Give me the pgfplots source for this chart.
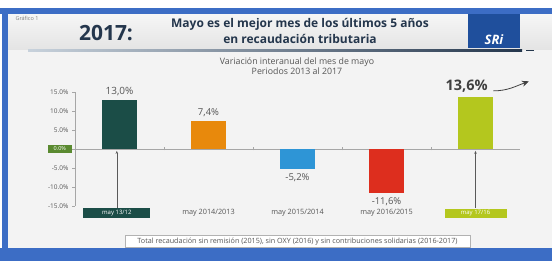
\documentclass[border=0pt]{standalone}
\usepackage{pgfplots}
\pgfplotsset{compat=1.18}
\usepackage{fontspec}
\setmainfont{Open Sans}
\usetikzlibrary{arrows.meta}
\definecolor{frameblue}{HTML}{3C6DC5}
\definecolor{teal}{HTML}{1B4D47}
\definecolor{orng}{HTML}{E8890C}
\definecolor{bblue}{HTML}{2E95D6}
\definecolor{rred}{HTML}{DD2E1E}
\definecolor{lgreen}{HTML}{B4C71E}
\definecolor{zgreen}{HTML}{5A8A30}
\definecolor{navy}{HTML}{24364C}
\definecolor{logoblue}{HTML}{1F4F9C}
\definecolor{txtgray}{HTML}{555555}
\definecolor{slidebg}{HTML}{F3F3F3}
\definecolor{hdtop}{HTML}{F6F6F6}
\definecolor{hdbot}{HTML}{E4E4E4}
\definecolor{linelight}{HTML}{C8D2DC}
\begin{document}
\begin{tikzpicture}[x=1pt,y=1pt]
\path[use as bounding box] (0,0) rectangle (552,261);
\fill[white] (0,0) rectangle (552,261);
% slide
\fill[slidebg] (8,13) rectangle (552,247);
\shade[top color=hdtop, bottom color=hdbot] (8,211) rectangle (552,247);
\fill[frameblue] (0,247) rectangle (552,253);
\fill[frameblue] (2,0) rectangle (8,253);
\fill[frameblue] (0,0) rectangle (552,13);
% header line
\shade[left color=linelight, right color=navy] (28,209.8) rectangle (522,211.6);
\draw[navy, line width=1pt] (526,210.7) -- (534,210.7);
% logo
\fill[logoblue] (468,213) rectangle (520,247);
\node[text=white, font=\bfseries\itshape\fontsize{13}{13}\selectfont] at (494,221) {SRi};
\node[anchor=west, text=gray, font=\fontsize{5.5}{5.5}\selectfont] at (12,243) {Gráfico 1};
\node[text=navy, font=\bfseries\fontsize{21}{21}\selectfont] at (106,228) {2017:};
\node[text=navy, font=\fontsize{12}{12}\selectfont\bfseries, align=center] at (300,236.5) {Mayo es el mejor mes de los últimos 5 años};
\node[text=navy, font=\fontsize{12}{12}\selectfont\bfseries, align=center] at (300,222) {en recaudación tributaria};
\node[text=txtgray, font=\fontsize{8.8}{8.8}\selectfont] at (297,199) {Variación interanual del mes de mayo};
\node[text=txtgray, font=\fontsize{8.8}{8.8}\selectfont] at (297,189.5) {Periodos 2013 al 2017};
% footnote
\draw[gray!60, fill=white] (125,14) rectangle (470,25.5);
\node[text=txtgray, font=\fontsize{7.2}{7.2}\selectfont] at (297.5,19.7) {Total recaudación sin remisión (2015), sin OXY (2016) y sin contribuciones solidarias (2016-2017)};
\begin{axis}[
  at={(75pt,55pt)}, anchor=origin,
  scale only axis, width=445pt, height=114pt,
  xmin=-0.5, xmax=4.5, ymin=-15, ymax=15,
  axis x line*=middle, axis y line*=left,
  axis line style={gray!70, line width=0.5pt},
  xtick={0.5,1.5,2.5,3.5}, xticklabels={},
  xtick align=center, ytick align=outside,
  major tick length=3pt,
  tick style={gray!70},
  ytick={-15,-10,-5,5,10,15},
  yticklabels={-15.0\%,-10.0\%,-5.0\%,5.0\%,10.0\%,15.0\%},
  yticklabel style={text=txtgray, font=\fontsize{6.5}{6.5}\selectfont},
  extra y ticks={0}, extra y tick labels={0.0\%},
  extra y tick style={yticklabel style={fill=zgreen, text=white, inner sep=1.5pt, minimum width=24pt, font=\fontsize{5.5}{5.5}\selectfont}},
  clip=false,
  anchor=south west,
]
\addplot[ybar, bar width=35pt, bar shift=0pt, fill=teal, draw=none] coordinates {(0,13.0)};
\addplot[ybar, bar width=35pt, bar shift=0pt, fill=orng, draw=none] coordinates {(1,7.4)};
\addplot[ybar, bar width=35pt, bar shift=0pt, fill=bblue, draw=none] coordinates {(2,-5.2)};
\addplot[ybar, bar width=35pt, bar shift=0pt, fill=rred, draw=none] coordinates {(3,-11.6)};
\addplot[ybar, bar width=35pt, bar shift=0pt, fill=lgreen, draw=none] coordinates {(4,13.6)};
\node[text=txtgray, font=\fontsize{10}{10}\selectfont, anchor=south] at (axis cs:0,13.2) {13,0\%};
\node[text=txtgray, font=\fontsize{9.5}{9.5}\selectfont, anchor=south] at (axis cs:1,7.6) {7,4\%};
\node[text=txtgray, font=\fontsize{9.5}{9.5}\selectfont, anchor=north] at (axis cs:2,-5.5) {-5,2\%};
\node[text=txtgray, font=\fontsize{9.5}{9.5}\selectfont, anchor=north] at (axis cs:3,-11.9) {-11,6\%};
\node[text=black!75, font=\bfseries\fontsize{14.5}{14.5}\selectfont, anchor=south] at (axis cs:3.9,14.1) {13,6\%};
\draw[black!75, line width=0.8pt, -{Stealth[length=7pt,width=6pt]}] (axis cs:4.2,15.3) to[out=0,in=200] (axis cs:4.6,17.8);
% arrows from boxes
\draw[gray!70!black, line width=0.5pt, -{Stealth[length=3pt,width=2.5pt]}] (axis cs:-0.03,-15.5) -- (axis cs:-0.03,-0.5);
\draw[gray!70!black, line width=0.5pt, -{Stealth[length=3pt,width=2.5pt]}] (axis cs:4,-15.5) -- (axis cs:4,-0.5);
% category labels
\node[fill=teal, text=white, font=\fontsize{6}{6}\selectfont, minimum width=67pt, minimum height=10pt, inner sep=0pt] at (axis cs:-0.03,-16.9) {may 13/12};
\node[text=txtgray, font=\fontsize{7.3}{7.3}\selectfont] at (axis cs:1,-16.9) {may 2014/2013};
\node[text=txtgray, font=\fontsize{7.3}{7.3}\selectfont] at (axis cs:2,-16.9) {may 2015/2014};
\node[text=txtgray, font=\fontsize{7.3}{7.3}\selectfont] at (axis cs:3,-16.9) {may 2016/2015};
\node[fill=lgreen, text=white, font=\fontsize{6}{6}\selectfont, minimum width=62pt, minimum height=9pt, inner sep=0pt] at (axis cs:4,-16.9) {may 17/16};
\end{axis}
\end{tikzpicture}
\end{document}
